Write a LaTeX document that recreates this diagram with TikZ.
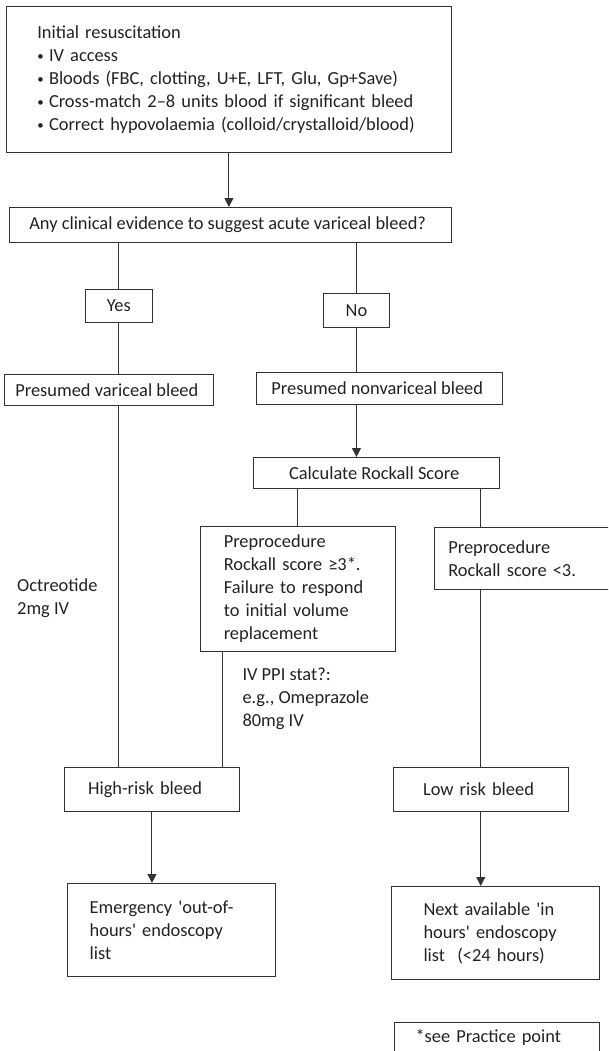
\documentclass[tikz,border=0pt]{standalone}
\usepackage{fontspec}
\setmainfont{Carlito}
\usepackage{xcolor}
\usepackage{tikz}
\usetikzlibrary{
  arrows.meta,
  positioning,
  calc
}
\definecolor{LineGray}{HTML}{333333}
\definecolor{TextGray}{HTML}{222222}
\newcommand{\bulletmark}{\makebox[11.7pt][l]{\raisebox{0.15ex}{\scalebox{0.7}{\textbullet}}}}
\newcommand{\sq}{\textquotesingle}
\tikzset{
  box/.style={
    draw=LineGray,
    line width=1pt,
    anchor=north west,
    inner sep=0pt,
    align=center,
    text=TextGray,
    font=\fontsize{18.4pt}{23pt}\selectfont
  },
  listbox/.style={
    box,
    align=left
  },
  note/.style={
    anchor=west,
    inner sep=0pt,
    align=left,
    text=TextGray,
    font=\fontsize{18.4pt}{23pt}\selectfont
  },
  link/.style={
    draw=LineGray,
    line width=1pt
  },
  flow/.style={
    link,
    -{Triangle[length=9pt,width=9pt]}
  }
}

\begin{document}
\begin{tikzpicture}[x=1pt,y=-1pt]

  \useasboundingbox (0,0) rectangle (608,1051);
  \clip (0,0) rectangle (608,1051);

  % first steps
  \node[
    listbox,
    minimum width=444.4pt,
    minimum height=146pt,
    inner xsep=30.6pt,
    text width=383.2pt
  ] (resus) at (6.2,6) {
    Initial resuscitation\\
    \bulletmark IV access\\
    \bulletmark Bloods (FBC, clotting, U+E, LFT, Glu, Gp+Save)\\
    \bulletmark Cross-match 2–8 units blood if significant bleed\\
    \bulletmark Correct hypovolaemia (colloid/crystalloid/blood)
  };

  \node[
    box,
    minimum width=442.8pt,
    minimum height=35pt
  ] (question) at (8.5,207) {
    Any clinical evidence to suggest acute variceal bleed?
  };

  \node[
    box,
    minimum width=66.7pt,
    minimum height=33pt
  ] (yes) at (84.9,289) {Yes};

  \node[
    box,
    minimum width=66.7pt,
    minimum height=34pt
  ] (no) at (322.6,293) {No};

  \node[
    box,
    minimum width=208.2pt,
    minimum height=31pt
  ] (variceal) at (4.3,374) {
    Presumed variceal bleed
  };

  \node[
    box,
    minimum width=245.8pt,
    minimum height=32pt
  ] (nonvariceal) at (255.9,372) {
    Presumed nonvariceal bleed
  };

  \node[
    box,
    minimum width=245.8pt,
    minimum height=31pt
  ] (rockall) at (252.8,457) {
    Calculate Rockall Score
  };

  % risk split
  \node[
    listbox,
    minimum width=194.7pt,
    minimum height=125pt,
    inner xsep=23.3pt,
    text width=148.1pt
  ] (highscore) at (200,526) {
    Preprocedure\\
    Rockall score ≥3*.\\
    Failure to respond\\
    to initial volume\\
    replacement
  };

  \node[
    listbox,
    minimum width=200pt,
    minimum height=62pt,
    inner xsep=13.5pt,
    text width=173pt
  ] (lowscore) at (434.3,527) {
    Preprocedure\\
    Rockall score <3.
  };

  \node[note] (octreotide) at (17,598) {
    Octreotide\\
    2mg IV
  };

  \node[note] (ppi) at (242.3,699) {
    IV PPI stat?:\\
    e.g., Omeprazole\\
    80mg IV
  };

  \node[
    listbox,
    minimum width=174.9pt,
    minimum height=44pt,
    inner xsep=23.6pt,
    text width=127.7pt
  ] (highrisk) at (64,767) {
    High-risk bleed
  };

  \node[
    listbox,
    minimum width=174.9pt,
    minimum height=44pt,
    inner xsep=29.8pt,
    text width=115.3pt
  ] (lowrisk) at (392.8,767) {
    Low risk bleed
  };

  % endoscopy
  \node[
    listbox,
    minimum width=208.2pt,
    minimum height=93pt,
    inner xsep=22.1pt,
    text width=164pt
  ] (emergency) at (67.1,883) {
    Emergency \sq out-of-\\
    hours\sq{} endoscopy\\
    list
  };

  \node[
    listbox,
    minimum width=208.5pt,
    minimum height=93pt,
    inner xsep=32.5pt,
    text width=143.5pt
  ] (nextlist) at (390.5,886) {
    Next available \sq in\\
    hours\sq{} endoscopy\\
    list~~(<24 hours)
  };

  \node[
    listbox,
    minimum width=205.6pt,
    minimum height=30pt,
    inner xsep=21.3pt,
    text width=163pt
  ] (footnote) at (393.7,1022) {
    *see Practice point
  };

  % connectors
  \draw[flow] (resus.south) -- (resus.south |- question.north);
  \draw[link] (question.south -| yes) -- (yes.north);
  \draw[link] (question.south -| no) -- (no.north);
  \draw[link] (yes.south) -- (yes.south |- variceal.north);
  \draw[link] (no.south) -- (no.south |- nonvariceal.north);
  \draw[flow] (nonvariceal.south -| no) -- (no |- rockall.north);
  \draw[link] (rockall.south -| highscore) -- (highscore.north);
  \draw[link] (rockall.south -| lowrisk) -- (lowscore.north -| lowrisk);
  \draw[link] (variceal.south -| yes) -- (yes |- highrisk.north);
  \draw[link] ([xshift=22.2pt]highscore.south west) -- ([xshift=22.2pt]highscore.south west |- highrisk.north);
  \draw[link] (lowscore.south -| lowrisk) -- (lowrisk.north);
  \draw[flow] (highrisk.south) -- (highrisk.south |- emergency.north);
  \draw[flow] (lowrisk.south) -- (lowrisk.south |- nextlist.north);

\end{tikzpicture}
\end{document}
